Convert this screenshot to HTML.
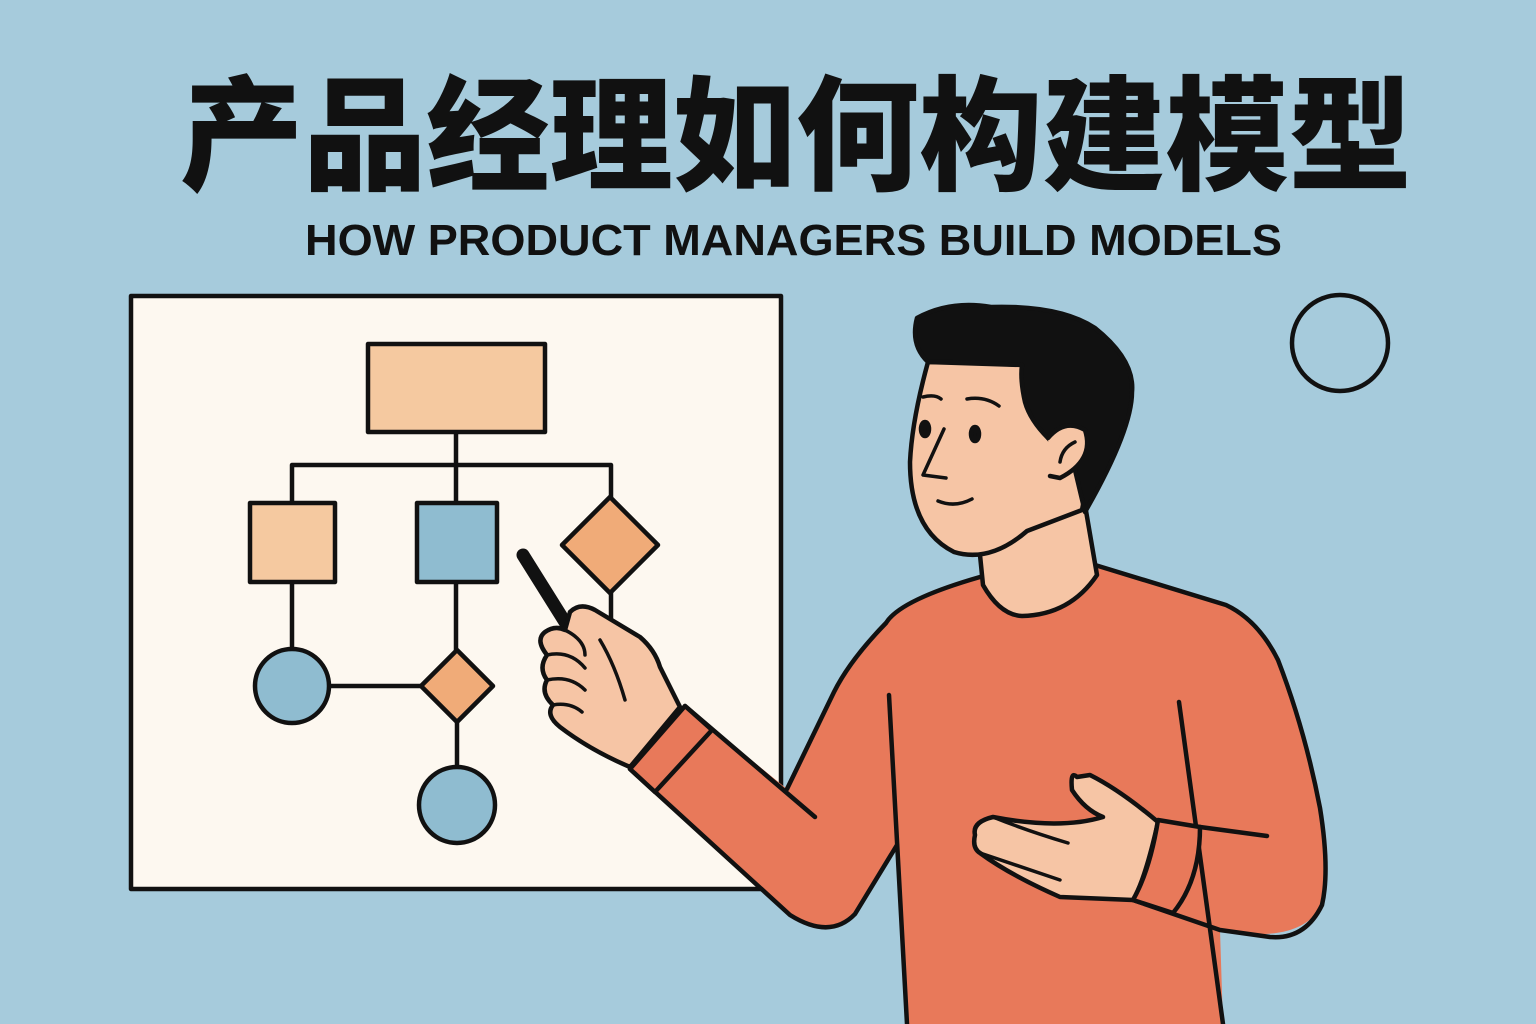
<!DOCTYPE html>
<html><head><meta charset="utf-8"><style>
html,body{margin:0;padding:0;background:#a6cbdc;}
svg{display:block}
</style></head><body>
<svg width="1536" height="1024" viewBox="0 0 1536 1024" xmlns="http://www.w3.org/2000/svg">
<rect width="1536" height="1024" fill="#a6cbdc"/>
<text x="180" y="180" font-family="Noto Sans CJK SC, sans-serif" font-weight="900" font-size="124" fill="#111" textLength="1232" lengthAdjust="spacingAndGlyphs">产品经理如何构建模型</text>
<text x="305" y="255" font-family="Liberation Sans, sans-serif" font-weight="bold" font-size="44" fill="#111" textLength="977" lengthAdjust="spacingAndGlyphs">HOW PRODUCT MANAGERS BUILD MODELS</text>
<circle cx="1340" cy="343" r="48" fill="none" stroke="#111" stroke-width="4.5"/>
<g stroke="#111" stroke-width="4.5" stroke-linejoin="round" stroke-linecap="round">
<rect x="131" y="296" width="650" height="593" fill="#fdf8f0"/>
<g fill="none">
<path d="M456 432V465M292 465H611M292 465V503M456 465V503M611 465V497M292 582V649M456 582V650M329 686H421M457 722V767M611 593V630"/>
</g>
<rect x="368" y="344" width="177" height="88" fill="#f5c9a0"/>
<rect x="250" y="503" width="85" height="79" fill="#f5c9a0"/>
<rect x="417" y="503" width="80" height="79" fill="#8fbcd0"/>
<path d="M610 497L658 545L610 593L562 545Z" fill="#f0ab78"/>
<circle cx="292" cy="686" r="37" fill="#8fbcd0"/>
<path d="M457 650L493 686L457 722L421 686Z" fill="#f0ab78"/>
<circle cx="457" cy="805" r="38" fill="#8fbcd0"/>
<!-- sweater body -->
<path d="M980 577 Q900 600 886 623 Q850 660 834 692 L787 789 L685 706 L630 769 L790 915 Q830 940 855 914 L897 845 L889 700 L907 1024 L1223 1024 L1220 930 Q1300 945 1322 905 Q1330 870 1320 808 Q1300 700 1278 660 Q1255 618 1226 605 L1095 565 Z" fill="#e8795a" stroke="none"/>
<path d="M980 577 Q900 600 886 623 Q850 660 834 692 L787 789" fill="none"/>
<path d="M1095 565 L1226 605 Q1258 620 1278 660 Q1305 730 1320 808 Q1330 870 1322 905 Q1305 940 1270 937 L1220 930 L1133 900" fill="none"/>
<path d="M889 695 L907 1024M1179 702 L1223 1024" fill="none"/>
<path d="M685 706 L815 817" fill="none"/>
<path d="M630 769 L790 915 Q830 940 855 914 L897 845" fill="none"/>
<!-- left cuff -->
<path d="M685 706 L712 730 L655 792 L630 769 Z" fill="#e8795a"/>
<!-- neck -->
<path d="M979 545 L983 585 Q1000 615 1022 616 Q1070 615 1097 575 L1085 505 Z" fill="#f6c5a5"/>
<!-- head -->
<path d="M928 362 Q912 420 910 462 Q910 530 954 552 Q990 563 1027 531 L1082 510 L1095 443 L1085 380 L1022 365 Z" fill="#f6c5a5"/>
<path d="M917 318 Q950 300 991 307 Q1060 305 1095 328 Q1135 360 1132 392 Q1132 430 1085 512 L1075 470 Q1050 440 1048 438 Q1030 420 1025 402 Q1020 380 1022 365 Q970 362 928 362 Q910 345 917 318Z" fill="#111"/>
<path d="M1048 438 Q1065 418 1085 430 Q1095 460 1060 478 L1050 476" fill="#f6c5a5"/>
<path d="M1060 462 Q1062 448 1075 442" fill="none" stroke-width="3.5"/>
<ellipse cx="925" cy="429" rx="4" ry="7" fill="#111"/>
<ellipse cx="975" cy="434" rx="4" ry="7" fill="#111"/>
<path d="M923 397 Q935 394 941 399M967 399 Q985 396 999 406M944 429 L923 475 L946 478M938 501 Q955 508 972 499" fill="none" stroke-width="3.5"/>
<!-- pen -->
<path d="M523 555 L590 662" stroke-width="13"/>
<!-- left hand -->
<path d="M570 612 Q580 602 595 610 Q620 625 640 637 Q655 650 660 667 L680 707 L630 767 Q590 750 560 727 Q545 715 553 705 Q540 693 547 680 Q538 668 547 655 Q535 640 545 632 Q555 625 565 630 Z" fill="#f6c5a5"/>
<path d="M565 630 Q585 640 585 655 M547 655 Q570 650 585 668 M547 680 Q570 675 585 690 M553 705 Q570 702 582 712 M600 640 Q615 665 625 700" fill="none" stroke-width="3.5"/>
<!-- right hand -->
<path d="M1077 777 Q1070 770 1072 790 Q1085 810 1103 817 Q1060 830 993 817 Q972 822 975 835 Q972 848 980 853 Q1010 875 1060 897 L1133 900 Q1145 880 1158 822 Q1120 790 1090 775 Z" fill="#f6c5a5"/>
<path d="M993 817 Q1025 830 1068 843 M980 853 Q1030 870 1060 880" fill="none" stroke-width="3.5"/>
<!-- right cuff -->
<path d="M1158 820 L1200 827 Q1200 880 1173 913 L1133 900 Q1150 870 1158 820Z" fill="#e8795a"/>
<path d="M1200 827 L1267 836" fill="none"/>
</g>
</svg>
</body></html>
